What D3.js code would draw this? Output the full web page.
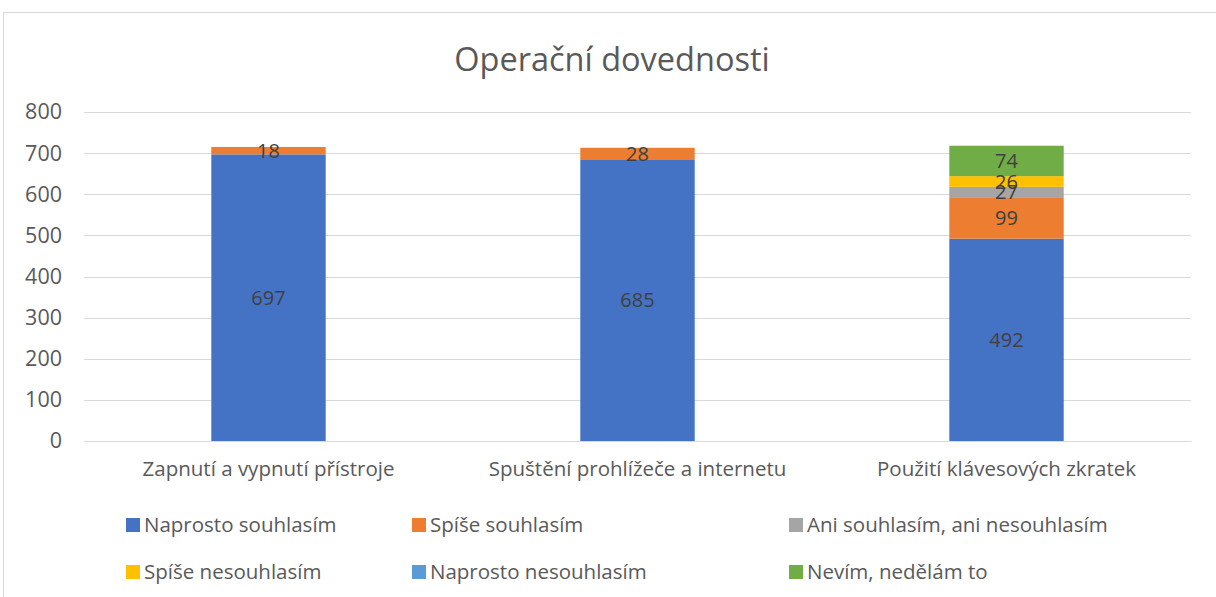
<!DOCTYPE html>
<html>
<head>
<meta charset="utf-8">
<script src="https://cdn.jsdelivr.net/npm/d3@7"></script>
<style>
  body { margin: 0; background: #fff; }
  svg { display: block; font-family: "Open Sans", sans-serif; }
</style>
</head>
<body>
<svg id="chart" width="1216" height="597"></svg>
<script>
const categories = ["Zapnutí a vypnutí přístroje", "Spuštění prohlížeče a internetu", "Použití klávesových zkratek"];
const seriesNames = ["Naprosto souhlasím", "Spíše souhlasím", "Ani souhlasím, ani nesouhlasím",
  "Spíše nesouhlasím", "Naprosto nesouhlasím", "Nevím, nedělám to"];
const seriesColors = ["#4472c4", "#ed7d31", "#a5a5a5", "#ffc000", "#5b9bd5", "#70ad47"];
const naprostoSouhlasim = [697, 685, 492];
const spiseSouhlasim = [18, 28, 99];
const aniAni = [0, 0, 27];
const spiseNesouhlasim = [0, 0, 26];
const naprostoNesouhlasim = [0, 0, 0];
const nevim = [0, 0, 74];
const yTicks = [0, 100, 200, 300, 400, 500, 600, 700, 800];

const seriesValues = [naprostoSouhlasim, spiseSouhlasim, aniAni, spiseNesouhlasim, naprostoNesouhlasim, nevim];
const table = categories.map((c, i) => {
  const row = { cat: c };
  seriesNames.forEach((s, j) => row[s] = seriesValues[j][i]);
  return row;
});

const svg = d3.select("#chart");
const margin = { top: 112, right: 25, bottom: 156, left: 84 };
const W = 1216, H = 597;
const FONT = "'Open Sans', sans-serif";

// chart frame
svg.append("rect")
  .attr("x", 3.5).attr("y", 12.5)
  .attr("width", W + 10).attr("height", H + 10)
  .attr("fill", "#fff").attr("stroke", "#d9d9d9");

svg.append("text")
  .attr("x", 612).attr("y", 71)
  .attr("text-anchor", "middle")
  .attr("font-size", 32.5)
  .attr("fill", "#595959")
  .text("Operační dovednosti");

const x = d3.scaleBand()
  .domain(categories)
  .range([margin.left, W - margin.right])
  .paddingInner(0.69).paddingOuter(0.345);

const y = d3.scaleLinear()
  .domain([0, 800])
  .range([H - margin.bottom, margin.top]);

// gridlines
svg.append("g")
  .selectAll("line")
  .data(yTicks)
  .join("line")
  .attr("x1", margin.left).attr("x2", W - margin.right)
  .attr("y1", d => Math.round(y(d)) + 0.5).attr("y2", d => Math.round(y(d)) + 0.5)
  .attr("stroke", "#d9d9d9").attr("stroke-width", 1);

// y axis labels
const yAxis = svg.append("g")
  .attr("transform", `translate(${margin.left},0)`)
  .call(d3.axisLeft(y).tickValues(yTicks).tickSize(0).tickPadding(22));
yAxis.select(".domain").remove();
yAxis.selectAll("text")
  .attr("font-size", 21.5).attr("fill", "#595959")
  .style("font-family", FONT);

// x axis labels
const xAxis = svg.append("g")
  .attr("transform", `translate(0,${y(0)})`)
  .call(d3.axisBottom(x).tickSize(0).tickPadding(20));
xAxis.select(".domain").attr("stroke", "#d9d9d9");
xAxis.selectAll("text")
  .attr("font-size", 20.5).attr("fill", "#595959")
  .style("font-family", FONT);

const stack = d3.stack().keys(seriesNames)(table);
const color = d3.scaleOrdinal().domain(seriesNames).range(seriesColors);

const layers = svg.append("g")
  .selectAll("g")
  .data(stack)
  .join("g")
  .attr("fill", d => color(d.key));

layers.selectAll("rect")
  .data(d => d.filter(p => p[1] - p[0] > 0))
  .join("rect")
  .attr("x", d => x(d.data.cat))
  .attr("y", d => y(d[1]))
  .attr("width", x.bandwidth())
  .attr("height", d => y(d[0]) - y(d[1]));

// data labels
const labels = svg.append("g");
stack.forEach(layer => {
  layer.forEach(p => {
    const v = p[1] - p[0];
    if (v <= 0) return;
    labels.append("text")
      .attr("x", x(p.data.cat) + x.bandwidth() / 2)
      .attr("y", (y(p[0]) + y(p[1])) / 2)
      .attr("dy", "0.35em")
      .attr("text-anchor", "middle")
      .attr("font-size", 20)
      .attr("fill", "#404040")
      .text(v);
  });
});

// legend
const legendCols = [126, 412, 789];
const legendRows = [525, 572];
const legend = svg.append("g")
  .selectAll("g")
  .data(seriesNames)
  .join("g")
  .attr("transform", (d, i) => `translate(${legendCols[i % 3]},${legendRows[Math.floor(i / 3)]})`);
legend.append("rect")
  .attr("x", 0).attr("y", -7).attr("width", 14).attr("height", 14)
  .attr("fill", d => color(d));
legend.append("text")
  .attr("x", 18).attr("dy", "0.35em")
  .attr("font-size", 20.5).attr("fill", "#595959")
  .text(d => d);
</script>
</body>
</html>
